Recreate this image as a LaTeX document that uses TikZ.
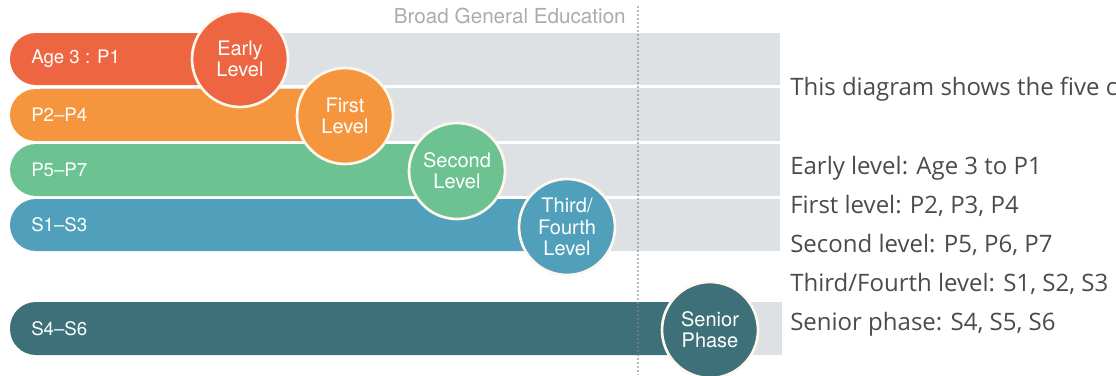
\documentclass[tikz,border=0pt]{standalone}
\usepackage{fontspec}
\setmainfont{TeX Gyre Heros}
\newfontfamily\descfont{Open Sans}
\definecolor{cEarly}{RGB}{238,101,66}
\definecolor{cFirst}{RGB}{245,150,62}
\definecolor{cSecond}{RGB}{109,194,145}
\definecolor{cThird}{RGB}{80,160,188}
\definecolor{cSenior}{RGB}{62,112,122}
\definecolor{cBand}{RGB}{222,225,228}
\definecolor{cRing}{RGB}{253,247,236}
\definecolor{cHead}{RGB}{170,172,176}
\definecolor{cDesc}{RGB}{75,75,78}
\begin{document}
\begin{tikzpicture}[x=0.75pt,y=-0.75pt,
  band/.style={fill=cBand},
  bar/.style={rounded corners=19.5pt},
  barlabel/.style={anchor=west,text=white,font=\fontsize{14}{16}\selectfont,inner sep=0pt},
  lvl/.style={circle,draw=cRing,line width=2pt,minimum size=72pt,inner sep=0pt,
    align=center,text=white,font=\fontsize{15}{16}\selectfont},
  desc/.style={anchor=base west,text=cDesc,font=\descfont\fontsize{18}{21}\selectfont,inner sep=0pt}]
\useasboundingbox (0,0) rectangle (1116,375);
% grey bands
\fill[band] (40,33) rectangle (780,85);
\fill[band] (40,88) rectangle (780,141);
\fill[band] (40,144) rectangle (780,196);
\fill[band] (40,199) rectangle (780,251);
\fill[band] (40,302) rectangle (782,355);
% bars
\fill[cEarly,bar] (10,33) rectangle (240,85);
\fill[cFirst,bar] (10,89) rectangle (345,141);
\fill[cSecond,bar] (10,144) rectangle (457,196);
\fill[cThird,bar] (10,199) rectangle (567,251);
\fill[cSenior,bar] (10,302) rectangle (710,355);
% dotted divider
\coordinate (dtop) at (638,6);
\coordinate (dbot) at (638,375);
\draw[cHead!80!black,opacity=0.6,line width=1.4pt,dash pattern=on 1.4pt off 1.6pt] (dtop) -- (dbot);
% bar labels
\node[barlabel] (l1) at (31,59) {Age 3 : P1};
\node[barlabel] (l2) at (31,115) {P2–P4};
\node[barlabel] (l3) at (31,170) {P5–P7};
\node[barlabel] (l4) at (31,225) {S1–S3};
\node[barlabel] (l5) at (31,329) {S4–S6};
% level circles
\node[lvl,fill=cEarly] (early) at (240,59) {Early\\Level};
\node[lvl,fill=cFirst] (first) at (345,116) {First\\Level};
\node[lvl,fill=cSecond] (second) at (457,171) {Second\\Level};
\node[lvl,fill=cThird] (third) at (567,227) {Third/\\Fourth\\Level};
\node[lvl,fill=cSenior] (senior) at (710,330) {Senior\\Phase};
% heading
\node[anchor=east,text=cHead,font=\fontsize{15.5}{18}\selectfont,inner sep=0pt] (bge) at (626,16) {Broad General Education};
% description
\node[desc] (d0) at (790,95) {This diagram shows the five c};
\node[desc] (d1) at (790,174) {Early level: Age 3 to P1};
\node[desc] (d2) at (790,213) {First level: P2, P3, P4};
\node[desc] (d3) at (790,252) {Second level: P5, P6, P7};
\node[desc] (d4) at (790,291) {Third/Fourth level: S1, S2, S3};
\node[desc] (d5) at (790,330) {Senior phase: S4, S5, S6};
\end{tikzpicture}
\end{document}
